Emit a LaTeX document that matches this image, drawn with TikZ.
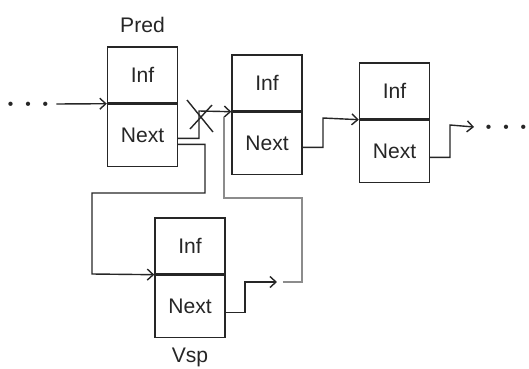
\documentclass[tikz,border=0pt]{standalone}
\usepackage{fontspec}
\setmainfont{Liberation Sans}
\usetikzlibrary{arrows.meta, positioning}

\newcommand{\dotrow}{{\tiny$\bullet$}\hspace{0.22cm}{\tiny$\bullet$}\hspace{0.22cm}{\tiny$\bullet$}}

\begin{document}
\begin{tikzpicture}[x=0.02cm, y=-0.02cm,
    line width=0.8pt, draw=black!85,
    every node/.style={font=\fontsize{12}{14}\selectfont, text=black!85},
    infcell/.style={draw, rectangle, inner sep=0pt, minimum width=1.4cm, minimum height=1.12cm},
    nextcell/.style={draw, rectangle, inner sep=0pt, minimum width=1.4cm, minimum height=1.24cm},
    dotsnode/.style={inner sep=0pt},
    link/.style={-{Straight Barb[length=1.2mm, width=2.2mm]}},
    oldlink/.style={draw=black!45, line width=0.7pt}]

    \useasboundingbox (0,0) rectangle (529,369);

    % list elements
    \node (pred_inf)  [infcell] at (142.5,75) {Inf};
    \node (pred_next) [nextcell, below=0pt of pred_inf] {Next};
    \node (b2_inf)    [infcell] at (267,83) {Inf};
    \node (b2_next)   [nextcell, below=0pt of b2_inf] {Next};
    \node (b3_inf)    [infcell] at (394.5,91) {Inf};
    \node (b3_next)   [nextcell, below=0pt of b3_inf] {Next};
    \node (vsp_inf)   [infcell] at (190,246) {Inf};
    \node (vsp_next)  [nextcell, below=0pt of vsp_inf] {Next};

    \node (pred_lbl) [above=4pt of pred_inf] {Pred};
    \node (vsp_lbl)  [below=2pt of vsp_next] {Vsp};

    \node (dots_l) [dotsnode] at (28,104) {\dotrow};
    \node (dots_r) [dotsnode] at (506,127) {\dotrow};

    \coordinate (vsp_end)   at (277,282);
    \coordinate (gray_from) at (283,282);
    \coordinate (gray_to)   at (224,117);

    \draw [link] ([xshift=4pt]dots_l.east) -- (pred_inf.south west);

    % old link, crossed out
    \draw [link] ([yshift=-0.06cm]pred_next.east) -| (199,111) -- (b2_inf.south west);
    \draw (187,100) -- (213,132);
    \draw (190,129) -- (212,105);

    % new links
    \draw [link] ([yshift=-0.18cm]pred_next.east) -| (205,193) -| (92,274) -- (vsp_inf.south west);
    \draw [link] ([yshift=-0.12cm]vsp_next.east) -| (245,282) -- (vsp_end);
    \draw [oldlink] (gray_from) -| (302,198) -| (gray_to);

    \draw [link] ([yshift=-0.08cm]b2_next.east) -| (323,118) -- (b3_inf.south west);
    \draw [link] ([yshift=-0.12cm]b3_next.east) -| (450,125) -- ([xshift=-6pt]dots_r.west);

\end{tikzpicture}
\end{document}
